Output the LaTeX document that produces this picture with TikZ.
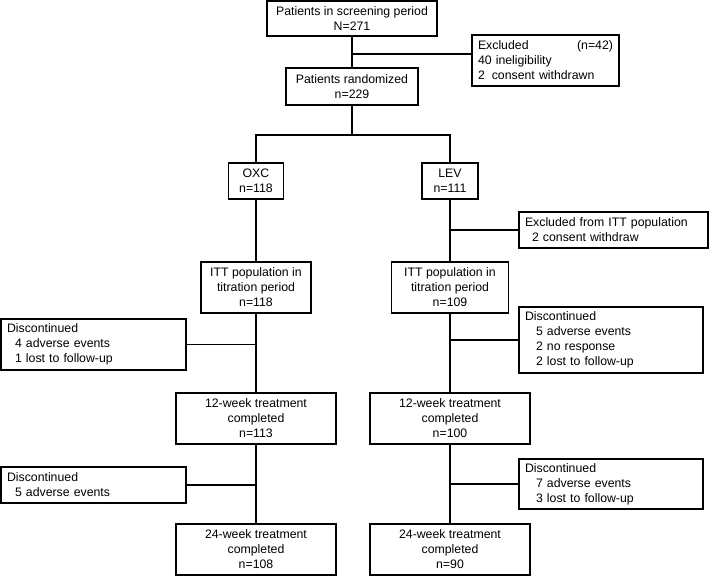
\documentclass[tikz,border=0pt]{standalone}
\usepackage{fontspec}
\setmainfont{Liberation Sans}
\usepackage{tikz}
\usetikzlibrary{positioning,calc}

\begin{document}
\begin{tikzpicture}[x=1pt, y=-1pt, line width=1.3pt,
		font=\fontsize{12.3}{15}\selectfont,
		mainbox/.style={draw, align=center, inner sep=0pt},
		sidebox/.style={draw, align=left, inner xsep=6pt, inner ysep=0pt,
			text width=#1}]
		\useasboundingbox (0,0) rectangle (709,576);
		% screening and randomisation
		\node[mainbox, minimum width=170pt, minimum height=35pt] (screen)
		at (352,18.5) {Patients in screening period\\N=271};
		\node[sidebox=135pt, minimum height=51pt] (excl) at (545.5,60.5)
		{Excluded\hfill(n=42)\hspace*{4pt}\\40 ineligibility\\2\hspace{7pt}consent withdrawn};
		\node[mainbox, minimum width=132pt, minimum height=37pt] (rand)
		at (352,86.5) {Patients randomized\\n=229};
		\coordinate (exclj) at (352,54);
		\coordinate (split) at (352,135);
		% the two arms
		\node[mainbox, minimum width=55pt, minimum height=36pt] (oxc)
		at (256,181) {OXC\\n=118};
		\node[mainbox, minimum width=56pt, minimum height=36pt] (lev)
		at (450,181) {LEV\\n=111};
		\node[sidebox=177pt, minimum height=36pt] (exitt) at (613.5,230)
		{Excluded from ITT population\\\hspace*{7pt}2 consent withdraw};
		\node[mainbox, minimum width=110pt, minimum height=51pt] (ittoxc)
		at (256,287.5) {ITT population in\\titration period\\n=118};
		\node[mainbox, minimum width=117pt, minimum height=51pt] (ittlev)
		at (450,287.5) {ITT population in\\titration period\\n=109};
		% first discontinuation
		\node[sidebox=173pt, minimum height=51pt] (discoxc1) at (93.5,344.5)
		{Discontinued\\\hspace*{8pt}4 adverse events\\\hspace*{8pt}1 lost to follow-up};
		\node[sidebox=172pt, minimum height=66pt] (disclev1) at (611,340)
		{Discontinued\\\hspace*{11pt}5 adverse events\\\hspace*{11pt}2 no response\\
			\hspace*{11pt}2 lost to follow-up};
		\node[mainbox, minimum width=160pt, minimum height=51pt] (oxc12)
		at (256,418.5) {12-week treatment\\completed\\n=113};
		\node[mainbox, minimum width=160pt, minimum height=51pt] (lev12)
		at (450,418.5) {12-week treatment\\completed\\n=100};
		% second discontinuation
		\node[sidebox=173pt, minimum height=36pt] (discoxc2) at (93.5,485)
		{Discontinued\\\hspace*{8pt}5 adverse events};
		\node[sidebox=172pt, minimum height=50pt] (disclev2) at (611,484)
		{Discontinued\\\hspace*{11pt}7 adverse events\\\hspace*{11pt}3 lost to follow-up};
		\node[mainbox, minimum width=160pt, minimum height=51pt] (oxc24)
		at (256,549.5) {24-week treatment\\completed\\n=108};
		\node[mainbox, minimum width=160pt, minimum height=51pt] (lev24)
		at (450,549.5) {24-week treatment\\completed\\n=90};
		% connectors
		\draw (screen) -- (rand);
		\draw (exclj) -- (exclj -| excl.west);
		\draw (rand) -- (split);
		\draw (oxc) |- (split) -| (lev);
		\draw (oxc) -- (ittoxc);
		\draw (lev) -- (ittlev);
		\draw (lev |- exitt.west) -- (exitt.west);
		\foreach \a/\b in {ittoxc/oxc12, oxc12/oxc24, ittlev/lev12, lev12/lev24}
			\draw (\a) -- (\b);
		\foreach \a/\b in {ittoxc/discoxc1, oxc12/discoxc2}
			\draw (\a |- \b.east) -- (\b.east);
		\foreach \a/\b in {ittlev/disclev1, lev12/disclev2}
			\draw (\a |- \b.west) -- (\b.west);
	\end{tikzpicture}
\end{document}
